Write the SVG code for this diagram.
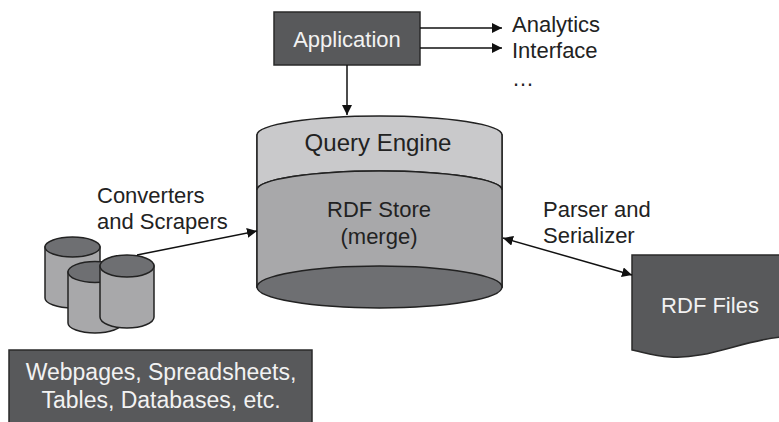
<svg xmlns="http://www.w3.org/2000/svg" width="779" height="422" viewBox="0 0 779 422">
<defs>
<style>
text{font-family:"Liberation Sans",Arial,sans-serif;font-size:22px;fill:#222}
.w{fill:#f2f2f2}
.dark{fill:#58595b;stroke:#2a2a2a;stroke-width:1.5}
.lt{fill:#c9c9cb;stroke:#222;stroke-width:1.5}
.md{fill:#a8a8aa;stroke:#222;stroke-width:1.5}
.dk{fill:#6e6f72;stroke:#222;stroke-width:1.5}
.ln{stroke:#111;stroke-width:1.5;fill:none}
</style>
<marker id="ah" viewBox="0 0 10 10" refX="10" refY="5" markerWidth="10" markerHeight="10" markerUnits="userSpaceOnUse" orient="auto-start-reverse">
<path d="M0,0 L10,5 L0,10 z" fill="#111"/>
</marker>
</defs>
<g id="application">
<rect class="dark" x="274" y="12" width="146" height="53"/>
<text class="w" x="347" y="47" text-anchor="middle">Application</text>
</g>
<g id="outputs">
<text x="512" y="32">Analytics</text>
<text x="512" y="58">Interface</text>
<text x="512" y="86">…</text>
</g>
<g id="store">
<path class="md" d="M257,135 V287 H502 V135 Z" stroke="none"/>
<path class="lt" d="M257,135 A122.5,19 0 0 1 502,135 V190 A122.5,19 0 0 0 257,190 Z"/>
<path class="md" d="M257,190 A122.5,19 0 0 1 502,190 V287 H257 Z"/>
<ellipse class="dk" cx="379.5" cy="287" rx="122.5" ry="21"/>
<text x="378" y="151" text-anchor="middle" style="font-size:24px">Query Engine</text>
<text x="379" y="217" text-anchor="middle">RDF Store</text>
<text x="379" y="244" text-anchor="middle">(merge)</text>
</g>
<g id="sources-db">
<path class="md" d="M45,247 V298 A27.5,10 0 0 0 100,298 V247 Z"/>
<ellipse class="dk" cx="72.5" cy="247" rx="27.5" ry="10"/>
<path class="md" d="M68,272 V323 A27,10 0 0 0 122,323 V272 Z"/>
<ellipse class="dk" cx="95" cy="272" rx="27" ry="10.5"/>
<path class="md" d="M100,266 V317 A27,11 0 0 0 154,317 V266 Z"/>
<ellipse class="dk" cx="127" cy="266" rx="27" ry="11"/>
</g>
<g id="sources">
<rect class="dark" x="9" y="350" width="303" height="80"/>
<text class="w" x="161" y="380" text-anchor="middle" style="font-size:23px">Webpages, Spreadsheets,</text>
<text class="w" x="161" y="408" text-anchor="middle" style="font-size:23px">Tables, Databases, etc.</text>
</g>
<g id="rdf-files">
<path class="dark" d="M632,255 H781 V337 C745,340 705,360 670,357 C655,356 642,352 632,350 Z"/>
<text class="w" x="710" y="313" text-anchor="middle">RDF Files</text>
</g>
<g id="connectors">
<line class="ln" x1="420" y1="28" x2="502" y2="28" marker-end="url(#ah)"/>
<line class="ln" x1="420" y1="48" x2="502" y2="48" marker-end="url(#ah)"/>
<line class="ln" x1="347" y1="65" x2="347" y2="115" marker-end="url(#ah)"/>
<line class="ln" x1="137" y1="255" x2="257" y2="231" marker-end="url(#ah)"/>
<line class="ln" x1="503" y1="238" x2="632" y2="275" marker-start="url(#ah)" marker-end="url(#ah)"/>
<text x="97" y="203">Converters</text>
<text x="97" y="229">and Scrapers</text>
<text x="543" y="217">Parser and</text>
<text x="543" y="243">Serializer</text>
</g>
</svg>
